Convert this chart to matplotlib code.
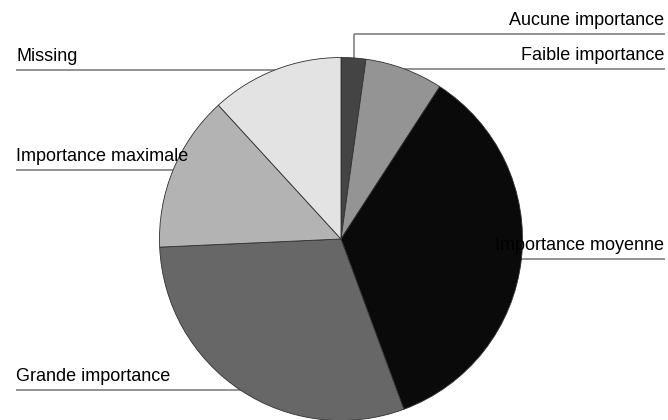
import numpy as np
import matplotlib
matplotlib.use("Agg")
import matplotlib.pyplot as plt

# Share of answers per importance level (percent)
categories = ["Aucune importance", "Faible importance", "Importance moyenne",
              "Grande importance", "Importance maximale", "Missing"]
shares = [2.2, 6.95, 35.2, 29.9, 13.9, 11.8]
colors = ["#444444", "#949494", "#0a0a0a", "#676767", "#b3b3b3", "#e3e3e3"]

# label side: +1 right column, -1 left column
sides = [1, 1, 1, -1, -1, -1]

W, H = 668, 420
fig = plt.figure(figsize=(W / 100, H / 100), dpi=100)
ax = fig.add_axes([0, 0, 1, 1])

cx, cy, r = 341, 181, 181.5
wedges, _ = ax.pie(shares, colors=colors, startangle=90, counterclock=False,
                   center=(cx, cy), radius=r, frame=True,
                   wedgeprops=dict(edgecolor="#303030", linewidth=0.6, zorder=3))
ax.set_xlim(0, W)
ax.set_ylim(0, H)
ax.set_aspect("equal")
ax.axis("off")

right_x, left_x = 665, 16
line_kw = dict(color="#808080", linewidth=1.2, zorder=1, solid_capstyle="butt")
text_kw = dict(fontsize=13, family=["Liberation Sans", "DejaVu Sans"],
               color="black", zorder=5, va="baseline")
lift = {0: 386}  # first label raised above its neighbour with an elbow

for i, (w, name, side) in enumerate(zip(wedges, categories, sides)):
    ang = np.deg2rad((w.theta1 + w.theta2) / 2)
    px, py = cx + r * np.cos(ang), cy + r * np.sin(ang)
    ly = lift.get(i, py)
    if i in lift:
        ax.plot([px, px], [py, ly], **line_kw)
    if side > 0:
        ax.plot([px, right_x], [ly, ly], **line_kw)
        ax.text(right_x - 1, ly + 9, name, ha="right", **text_kw)
    else:
        ax.plot([left_x, px], [ly, ly], **line_kw)
        ax.text(left_x, ly + 9, name, ha="left", **text_kw)

fig.savefig("out.png", dpi=100, facecolor="white")
